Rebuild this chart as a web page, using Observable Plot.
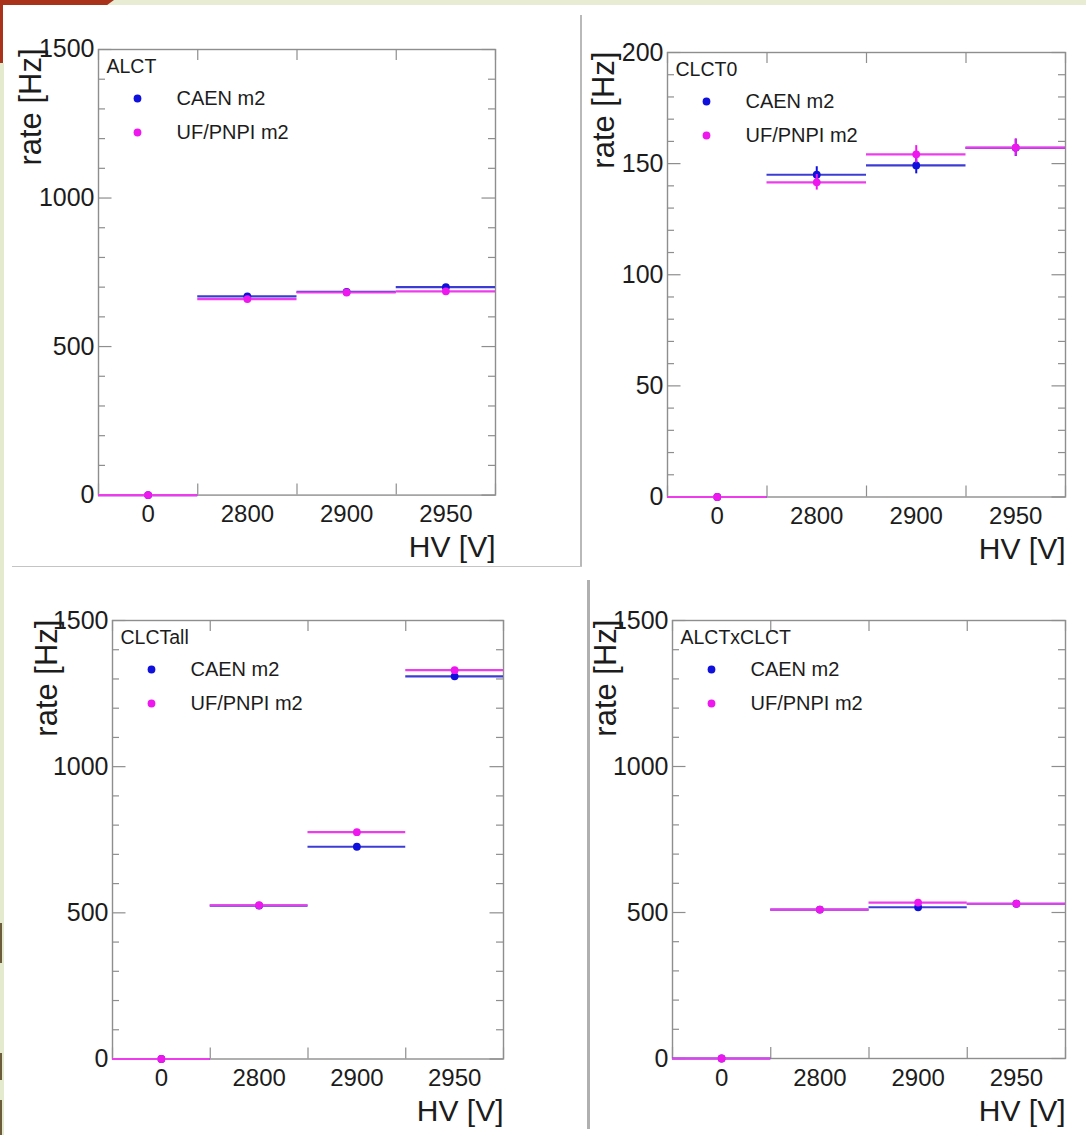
<!DOCTYPE html>
<html>
<head>
<meta charset="utf-8">
<script src="https://cdn.jsdelivr.net/npm/d3@7"></script>
<script src="https://cdn.jsdelivr.net/npm/@observablehq/plot@0.6"></script>
<style>
  html, body { margin: 0; padding: 0; background: #fff; }
  #page { position: relative; width: 1086px; height: 1135px; overflow: hidden; background: #fff; }
  .deco { position: absolute; }
  .panel { position: absolute; }
  .panel svg { overflow: visible; }
</style>
</head>
<body>
<div id="page">
  <div class="deco" style="left:0;top:0;width:1086px;height:5px;background:#e7ecd3;"></div>
  <div class="deco" style="left:0;top:0;width:114px;height:5px;background:#a8321a;clip-path:polygon(0 0,100% 0,94% 100%,0 100%);"></div>
  <div class="deco" style="left:0;top:0;width:3px;height:63px;background:#a8321a;"></div>
  <div class="deco" style="left:0;top:63px;width:4px;height:1072px;background:#e4eace;"></div>
  <div class="deco" style="left:0;top:923px;width:2px;height:40px;background:#6d5c3c;"></div>
  <div class="deco" style="left:0;top:1053px;width:2px;height:27px;background:#6d5c3c;"></div>
  <div class="deco" style="left:0;top:1100px;width:2px;height:35px;background:#6d5c3c;"></div>
  <div class="deco" style="left:580px;top:15px;width:2px;height:552px;background:#b9b9b9;"></div>
  <div class="deco" style="left:12px;top:566px;width:570px;height:1px;background:#c4c4c4;"></div>
  <div class="deco" style="left:587px;top:580px;width:3px;height:549px;background:#b0b0b0;"></div>
</div>
<script>
// ---------- data ----------
const hvLabels = ["0", "2800", "2900", "2950"];
const seriesNames = ["CAEN m2", "UF/PNPI m2"];
const seriesColors = ["#1010dc", "#ee18ee"];
const lineColors = ["#3c3cd4", "#ec3cec"];

const panelTitles = ["ALCT", "CLCT0", "CLCTall", "ALCTxCLCT"];

const alctCaen = [0, 669, 684, 700];
const alctUf   = [0, 660, 682, 686];

const clct0Caen    = [0, 145.0, 149.2, 157.1];
const clct0Uf      = [0, 141.6, 154.2, 157.2];
const clct0CaenErr = [0, 3.6, 3.8, 3.9];
const clct0UfErr   = [0, 3.5, 3.9, 3.9];

const clctAllCaen = [0, 525, 726, 1309];
const clctAllUf   = [0, 526, 776, 1330];

const alctClctCaen = [0, 510, 518, 530];
const alctClctUf   = [0, 510, 534, 530];

const yTicks1500 = [0, 500, 1000, 1500];
const yTicks200  = [0, 50, 100, 150, 200];

// ---------- layout ----------
const frames = [
  {l: 98,  r: 495,  t: 49,    b: 494.6, ylab: -58},
  {l: 667, r: 1065, t: 52,    b: 496.5, ylab: -54},
  {l: 112, r: 503,  t: 619.5, b: 1058,  ylab: -56},
  {l: 672, r: 1065, t: 620,   b: 1058,  ylab: -57}
];
const panels = [
  {title: panelTitles[0], caen: alctCaen, uf: alctUf, caenErr: null, ufErr: null, ymax: 1500, major: yTicks1500, minorStep: 100},
  {title: panelTitles[1], caen: clct0Caen, uf: clct0Uf, caenErr: clct0CaenErr, ufErr: clct0UfErr, ymax: 200, major: yTicks200, minorStep: 10},
  {title: panelTitles[2], caen: clctAllCaen, uf: clctAllUf, caenErr: null, ufErr: null, ymax: 1500, major: yTicks1500, minorStep: 100},
  {title: panelTitles[3], caen: alctClctCaen, uf: alctClctUf, caenErr: null, ufErr: null, ymax: 1500, major: yTicks1500, minorStep: 100}
];

const ML = 90, MR = 20, MT = 20, MB = 80;
const frameColor = "#8e8e8e";
const page = document.getElementById("page");

panels.forEach((p, k) => {
  const f = frames[k];
  const fw = f.r - f.l, fh = f.b - f.t;
  const rows = [];
  [p.caen, p.uf].forEach((vals, s) => {
    const errs = s === 0 ? p.caenErr : p.ufErr;
    vals.forEach((v, i) => rows.push({i, hv: hvLabels[i], rate: v, err: errs ? errs[i] : 0, s}));
  });
  const minor = d3.range(0, p.ymax + 1e-9, p.minorStep).filter(v => !p.major.includes(v));
  const bounds = d3.range(hvLabels.length + 1).map(i => i - 0.5);
  const majLen = 13.5, minLen = 7, xLen = 11;

  const marks = [
    Plot.frame({stroke: frameColor, strokeWidth: 1.4}),
    // minor / major ticks, inside the frame on both sides
    Plot.tickY(minor, {y: d => d, stroke: frameColor, strokeWidth: 1.2, insetRight: fw - minLen}),
    Plot.tickY(minor, {y: d => d, stroke: frameColor, strokeWidth: 1.2, insetLeft: fw - minLen}),
    Plot.tickY(p.major, {y: d => d, stroke: frameColor, strokeWidth: 1.2, insetRight: fw - majLen}),
    Plot.tickY(p.major, {y: d => d, stroke: frameColor, strokeWidth: 1.2, insetLeft: fw - majLen}),
    Plot.tickX(bounds, {x: d => d, stroke: frameColor, strokeWidth: 1.2, insetTop: fh - xLen}),
    Plot.tickX(bounds, {x: d => d, stroke: frameColor, strokeWidth: 1.2, insetBottom: fh - xLen}),
    Plot.axisY({ticks: p.major, tickFormat: d => String(d), tickSize: 0, tickPadding: 4, fontSize: 25, label: null}),
    Plot.axisX({ticks: d3.range(hvLabels.length), tickFormat: i => hvLabels[i], tickSize: 0, tickPadding: 10, fontSize: 24, label: null}),
  ];
  [0, 1].forEach(s => {
    const d = rows.filter(r => r.s === s);
    marks.push(
      Plot.ruleY(d, {y: "rate", x1: r => r.i - 0.5, x2: r => r.i + 0.5, stroke: lineColors[s], strokeWidth: 2.2}),
    );
    if (d.some(r => r.err > 0)) {
      marks.push(Plot.ruleX(d.filter(r => r.err > 0), {x: "i", y1: r => r.rate - r.err, y2: r => r.rate + r.err, stroke: seriesColors[s], strokeWidth: 2}));
    }
    marks.push(Plot.dot(d, {x: "i", y: "rate", r: 3.9, fill: seriesColors[s], stroke: "none"}));
  });
  marks.push(
    Plot.text([p.title], {text: d => d, frameAnchor: "top-left", dx: 8, dy: 17, textAnchor: "start", lineAnchor: "middle", fontSize: 19.5}),
    Plot.dot([seriesNames[0]], {frameAnchor: "top-left", dx: 39, dy: 49, r: 3.9, fill: seriesColors[0], stroke: "none"}),
    Plot.dot([seriesNames[1]], {frameAnchor: "top-left", dx: 39, dy: 83, r: 3.9, fill: seriesColors[1], stroke: "none"}),
    Plot.text([seriesNames[0]], {text: d => d, frameAnchor: "top-left", dx: 78, dy: 49, textAnchor: "start", lineAnchor: "middle", fontSize: 20}),
    Plot.text([seriesNames[1]], {text: d => d, frameAnchor: "top-left", dx: 78, dy: 83, textAnchor: "start", lineAnchor: "middle", fontSize: 20}),
    Plot.text(["HV [V]"], {text: d => d, frameAnchor: "bottom-right", textAnchor: "end", lineAnchor: "bottom", dy: 62, fontSize: 30}),
    Plot.text(["rate [Hz]"], {text: d => d, frameAnchor: "top-left", rotate: -90, textAnchor: "end", lineAnchor: "bottom", dx: f.ylab, dy: -1, fontSize: 31})
  );

  const chart = Plot.plot({
    width: fw + ML + MR,
    height: fh + MT + MB,
    marginLeft: ML, marginRight: MR, marginTop: MT, marginBottom: MB,
    x: {type: "linear", domain: [-0.5, hvLabels.length - 0.5]},
    y: {domain: [0, p.ymax]},
    style: {fontFamily: "'Liberation Sans', Arial, Helvetica, sans-serif", color: "#1c1c1c", background: "transparent", overflow: "visible"},
    marks
  });
  const div = document.createElement("div");
  div.className = "panel";
  div.style.left = (f.l - ML) + "px";
  div.style.top = (f.t - MT) + "px";
  div.appendChild(chart);
  page.appendChild(div);
});
</script>
</body>
</html>
